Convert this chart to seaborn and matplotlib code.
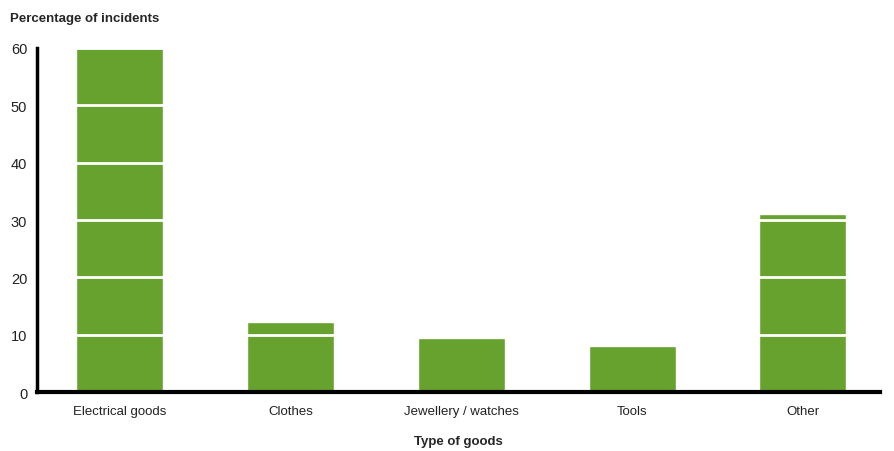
import matplotlib
matplotlib.use('Agg')
import matplotlib.pyplot as plt
import seaborn as sns
import pandas as pd

#data
categories = ['Electrical goods', 'Clothes', 'Jewellery / watches', 'Tools', 'Other']
percentages = [60.0, 12.2, 9.4, 8.0, 31.0]
y_ticks = [0, 10, 20, 30, 40, 50, 60]

df = pd.DataFrame({'Type of goods': categories, 'Percentage': percentages})

sns.set_style('white')
plt.rcParams['font.family'] = ['Liberation Sans', 'DejaVu Sans']

fig = plt.figure(figsize=(8.95, 4.52), dpi=100)
ax = fig.add_axes([0.0413, 0.1305, 0.9417, 0.7611])

sns.barplot(data=df, x='Type of goods', y='Percentage', color='#68A22E',
            width=0.51, saturation=1, ax=ax, zorder=1)

#white gridlines drawn over the bars
ax.set_ylim(0, 60)
ax.set_xlim(-0.485, 4.45)
ax.set_yticks(y_ticks)
ax.yaxis.grid(True, color='white', linewidth=2)
ax.set_axisbelow(False)
ax.xaxis.grid(False)

for side in ['top', 'right']:
    ax.spines[side].set_visible(False)
ax.spines['left'].set_linewidth(2.5)
ax.spines['bottom'].set_linewidth(3)
ax.spines['left'].set_color('black')
ax.spines['bottom'].set_color('black')
ax.spines['left'].set_zorder(5)
ax.spines['bottom'].set_zorder(5)

ax.tick_params(axis='x', length=0, labelsize=9.5, colors='#222222', pad=9)
ax.tick_params(axis='y', length=0, labelsize=10.5, colors='#222222', pad=7)
ax.set_ylabel('')
ax.set_xlabel('Type of goods', fontsize=9.5, fontweight='bold', labelpad=13)

fig.text(0.011, 0.957, 'Percentage of incidents', fontsize=9.5, fontweight='bold',
         ha='left', va='center')

fig.savefig('out.png', dpi=100)
